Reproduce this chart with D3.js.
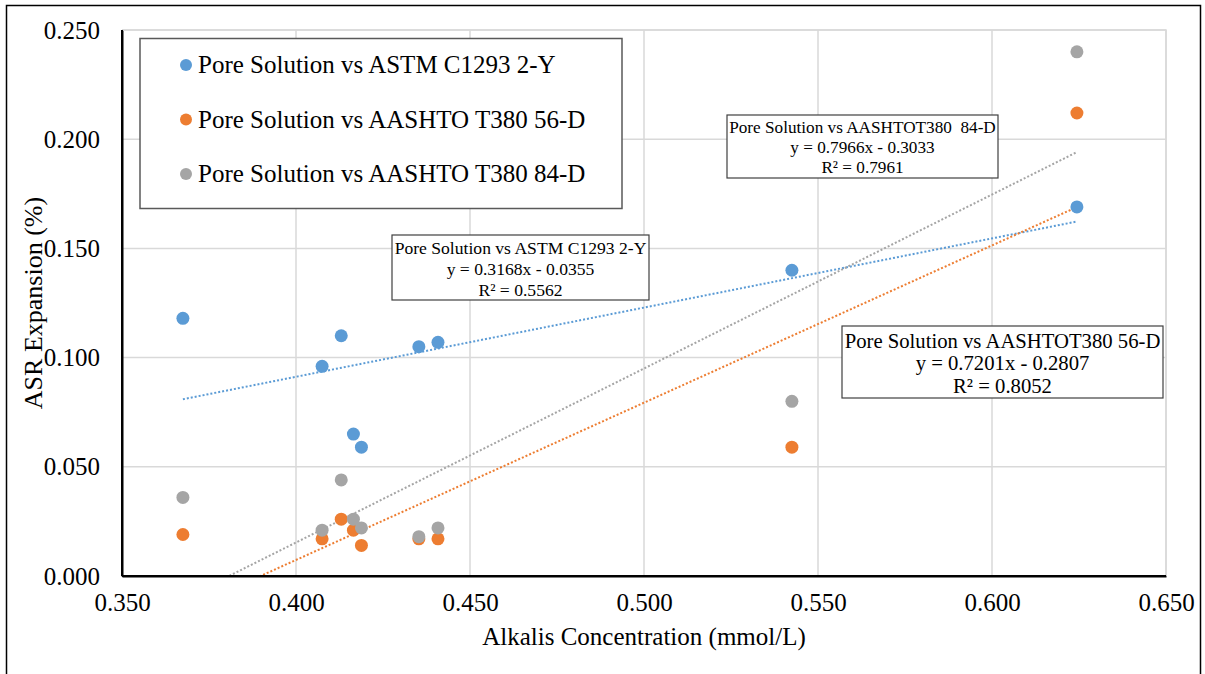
<!DOCTYPE html>
<html><head><meta charset="utf-8">
<script src="https://cdn.jsdelivr.net/npm/d3@7"></script>
<style>body{margin:0;background:#fff;} svg text{font-family:"Liberation Serif","Times New Roman",serif !important;}</style>
</head><body><svg id="c" width="1205" height="674"></svg>
<script>
const alkalis = [0.3675, 0.4075, 0.4130, 0.4165, 0.4188, 0.4353, 0.4408, 0.5425, 0.6244];
const astm2Y = [0.118, 0.096, 0.110, 0.065, 0.059, 0.105, 0.107, 0.140, 0.169];
const aashto56D = [0.019, 0.017, 0.026, 0.021, 0.014, 0.017, 0.017, 0.059, 0.212];
const aashto84D = [0.036, 0.021, 0.044, 0.026, 0.022, 0.018, 0.022, 0.080, 0.240];
const seriesNames = ["Pore Solution vs ASTM C1293 2-Y", "Pore Solution vs AASHTO T380 56-D", "Pore Solution vs AASHTO T380 84-D"];
const trendSlopes = [0.3168, 0.7201, 0.7966];
const trendIntercepts = [-0.0355, -0.2807, -0.3033];
const trendR2 = ["0.5562", "0.8052", "0.7961"];
const trendTitles = ["Pore Solution vs ASTM C1293 2-Y", "Pore Solution vs AASHTOT380 56-D", "Pore Solution vs AASHTOT380  84-D"];
const xTicks = [0.35, 0.40, 0.45, 0.50, 0.55, 0.60, 0.65];
const yTicks = [0, 0.05, 0.10, 0.15, 0.20, 0.25];
const colors = ["#5B9BD5", "#ED7D31", "#A5A5A5"];

const svg = d3.select("#c");
const L = 122, R = 1166, T = 30, B = 576;
const x = d3.scaleLinear().domain([0.35, 0.65]).range([L, R]);
const y = d3.scaleLinear().domain([0, 0.25]).range([B, T]);

// outer border
svg.append("rect").attr("x", 6.5).attr("y", 5.5).attr("width", 1194).attr("height", 690)
  .attr("fill", "none").attr("stroke", "#000").attr("stroke-width", 1.5);

// gridlines
svg.append("g").selectAll("line").data(yTicks.slice(1)).join("line")
  .attr("x1", L).attr("x2", R).attr("y1", d => y(d)).attr("y2", d => y(d))
  .attr("stroke", "#d9d9d9").attr("stroke-width", 1.5);
svg.append("g").selectAll("line").data(xTicks.slice(1)).join("line")
  .attr("y1", T).attr("y2", B).attr("x1", d => x(d)).attr("x2", d => x(d))
  .attr("stroke", "#d9d9d9").attr("stroke-width", 1.5);

// axes
const xAxis = d3.axisBottom(x).tickValues(xTicks).tickFormat(d3.format(".3f")).tickSize(0).tickPadding(17);
const gx = svg.append("g").attr("transform", `translate(0,${B})`).call(xAxis);
gx.attr("font-family", null);
gx.select(".domain").attr("stroke", "#000").attr("stroke-width", 2);
gx.selectAll("text").attr("font-size", 25).attr("fill", "#000");
const yAxis = d3.axisLeft(y).tickValues(yTicks).tickFormat(d3.format(".3f")).tickSize(0).tickPadding(22);
const gy = svg.append("g").attr("transform", `translate(${L},0)`).call(yAxis);
gy.attr("font-family", null);
gy.select(".domain").attr("stroke", "#000").attr("stroke-width", 2);
gy.selectAll("text").attr("font-size", 25).attr("fill", "#000");

// axis titles
svg.append("text").attr("x", 644).attr("y", 645).attr("text-anchor", "middle")
  .attr("font-size", 25).text("Alkalis Concentration (mmol/L)");
svg.append("text").attr("transform", "translate(42,303) rotate(-90)").attr("text-anchor", "middle")
  .attr("font-size", 26).text("ASR Expansion (%)");

// clip
svg.append("clipPath").attr("id", "plotclip").append("rect")
  .attr("x", L).attr("y", T).attr("width", R - L).attr("height", B - T);

// trendlines
const xmin = d3.min(alkalis), xmax = d3.max(alkalis);
const tg = svg.append("g").attr("clip-path", "url(#plotclip)");
trendSlopes.forEach((m, i) => {
  const b = trendIntercepts[i];
  tg.append("line")
    .attr("x1", x(xmin)).attr("y1", y(m * xmin + b))
    .attr("x2", x(xmax)).attr("y2", y(m * xmax + b))
    .attr("stroke", colors[i]).attr("stroke-width", 2)
    .attr("stroke-dasharray", "2 2");
});

// points
[astm2Y, aashto56D, aashto84D].forEach((vals, i) => {
  svg.append("g").selectAll("circle").data(vals).join("circle")
    .attr("cx", (d, j) => x(alkalis[j])).attr("cy", d => y(d)).attr("r", 6.5)
    .attr("fill", colors[i]);
});

// plot area border (light)
svg.append("path").attr("d", `M${L},${T}H${R}V${B}`).attr("fill", "none")
  .attr("stroke", "#d9d9d9").attr("stroke-width", 1.5);
svg.append("line").attr("x1", L).attr("x2", L).attr("y1", T).attr("y2", B).attr("stroke", "#000").attr("stroke-width", 2);
svg.append("line").attr("x1", L).attr("x2", R).attr("y1", B).attr("y2", B).attr("stroke", "#000").attr("stroke-width", 2);

// legend
const lg = svg.append("g");
lg.append("rect").attr("x", 140).attr("y", 38.5).attr("width", 482).attr("height", 170)
  .attr("fill", "#fff").attr("stroke", "#595959").attr("stroke-width", 1.5);
seriesNames.forEach((n, i) => {
  const cy = 65 + i * 54.5;
  lg.append("circle").attr("cx", 186).attr("cy", cy).attr("r", 6).attr("fill", colors[i]);
  lg.append("text").attr("x", 198).attr("y", cy + 8).attr("font-size", 25).attr("fill", "#000").text(n);
});

// trendline labels
const boxes = [
  {x: 392, y: 235, w: 257, h: 65, fs: 17.6, lh: 21},
  {x: 842, y: 326, w: 321, h: 72, fs: 20.7, lh: 22.5},
  {x: 727, y: 115, w: 271, h: 63, fs: 17.2, lh: 20}
];
boxes.forEach((bx, i) => {
  const g = svg.append("g");
  g.append("rect").attr("x", bx.x).attr("y", bx.y).attr("width", bx.w).attr("height", bx.h)
    .attr("fill", "#fff").attr("stroke", "#404040").attr("stroke-width", 1.2);
  const cx = bx.x + bx.w / 2;
  const lines = [trendTitles[i],
    `y = ${trendSlopes[i].toFixed(4)}x - ${Math.abs(trendIntercepts[i]).toFixed(4)}`,
    `R² = ${trendR2[i]}`];
  lines.forEach((t, k) => {
    g.append("text").attr("x", cx).attr("y", bx.y + bx.fs + 1 + k * bx.lh)
      .attr("text-anchor", "middle").attr("font-size", bx.fs).attr("fill", "#000")
      .attr("xml:space", "preserve").style("white-space", "pre").text(t);
  });
});
</script></body></html>
